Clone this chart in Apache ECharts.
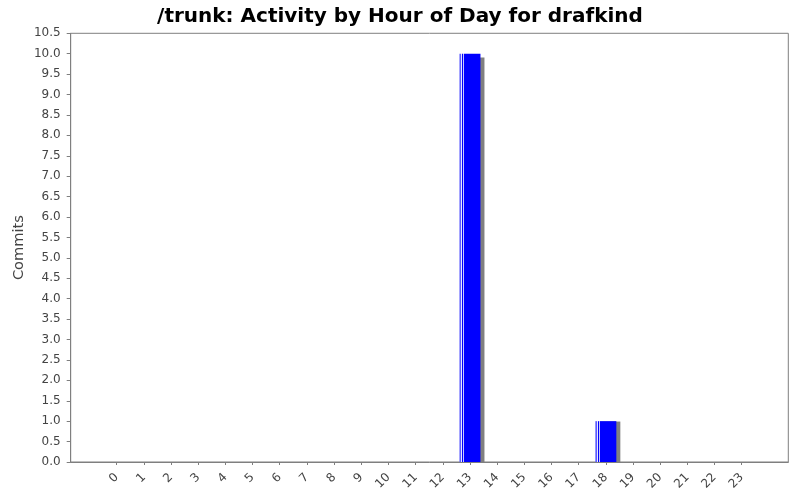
<!DOCTYPE html>
<html>
<head>
<meta charset="utf-8">
<script src="https://cdn.jsdelivr.net/npm/echarts@6/dist/echarts.min.js"></script>
<style>html,body{margin:0;padding:0;background:#fff;}#c{width:800px;height:500px;}</style>
</head>
<body>
<div id="c"></div>
<script>
const titleText = "/trunk: Activity by Hour of Day for drafkind";
const yAxisName = "Commits";
const hours = ["0","1","2","3","4","5","6","7","8","9","10","11","12","13","14","15","16","17","18","19","20","21","22","23"];
const commits = [0,0,0,0,0,0,0,0,0,0,0,0,0,10,0,0,0,0,1,0,0,0,0,0];
const yMin = 0, yMax = 10.5, yStep = 0.5;

const chart = echarts.init(document.getElementById('c'), null, {renderer: 'canvas'});
const axisGray = '#7f7f7f';
const labelColor = '#444';
const font = 'DejaVu Sans';
const barFill = new echarts.graphic.LinearGradient(0, 0, 1, 0, [
  {offset: 0, color: '#5a5aff'},
  {offset: 0.07, color: '#5a5aff'},
  {offset: 0.07, color: '#e8e8ff'},
  {offset: 0.12, color: '#e8e8ff'},
  {offset: 0.12, color: '#0000ff'},
  {offset: 0.17, color: '#0000ff'},
  {offset: 0.17, color: '#c8c8ff'},
  {offset: 0.22, color: '#c8c8ff'},
  {offset: 0.22, color: '#0000ff'},
  {offset: 1, color: '#0000ff'}
]);

chart.setOption({
  animation: false,
  backgroundColor: '#fff',
  title: {
    text: titleText, left: 'center', top: 2,
    textStyle: {fontFamily: font, fontWeight: 'bold', fontSize: 20, color: '#000'}
  },
  grid: [
    {left: 70.7, right: 11.7, top: 33.3, bottom: 38, show: true, borderColor: axisGray, borderWidth: 1, backgroundColor: '#fff'},
    {left: 103.1, right: 44.7, top: 33.3, bottom: 38},
    {left: 107.1, right: 40.7, top: 37.3, bottom: 38}
  ],
  xAxis: [
    {type: 'value', gridIndex: 0, min: 0, max: 1, offset: 4.5,
     axisLine: {show: true, lineStyle: {color: axisGray}}, axisTick: {show: false},
     axisLabel: {show: false}, splitLine: {show: false}},
    {type: 'category', gridIndex: 1, data: hours, offset: 4.5,
     axisLine: {show: false},
     axisTick: {show: true, alignWithLabel: true, length: 3, lineStyle: {color: axisGray}},
     axisLabel: {rotate: 45, margin: 9, fontFamily: font, fontSize: 12, color: labelColor},
     splitLine: {show: false}},
    {type: 'category', gridIndex: 2, data: hours, show: false}
  ],
  yAxis: [
    {type: 'value', gridIndex: 0, min: yMin, max: yMax, interval: yStep, offset: 4,
     name: yAxisName, nameLocation: 'middle', nameGap: 40, nameMoveOverlap: false,
     nameTextStyle: {fontFamily: font, fontSize: 14.6, color: labelColor},
     axisLine: {show: true, lineStyle: {color: axisGray}},
     axisTick: {show: true, length: 4, lineStyle: {color: axisGray}},
     axisLabel: {margin: 6, fontFamily: font, fontSize: 12, color: labelColor,
                 formatter: v => v.toFixed(1)},
     splitLine: {show: false}},
    {type: 'value', gridIndex: 1, min: yMin, max: yMax, interval: yStep, show: false},
    {type: 'value', gridIndex: 2, min: yMin, max: yMax, interval: yStep, show: false}
  ],
  series: [
    {type: 'bar', name: 'shadow', xAxisIndex: 2, yAxisIndex: 2, data: commits, barWidth: 21, z: 1,
     itemStyle: {color: '#808080'}, emphasis: {disabled: true}, silent: true},
    {type: 'bar', name: 'commits', xAxisIndex: 1, yAxisIndex: 1, data: commits, barWidth: 21, z: 2,
     itemStyle: {color: barFill}, emphasis: {disabled: true}}
  ]
});
</script>
</body>
</html>
